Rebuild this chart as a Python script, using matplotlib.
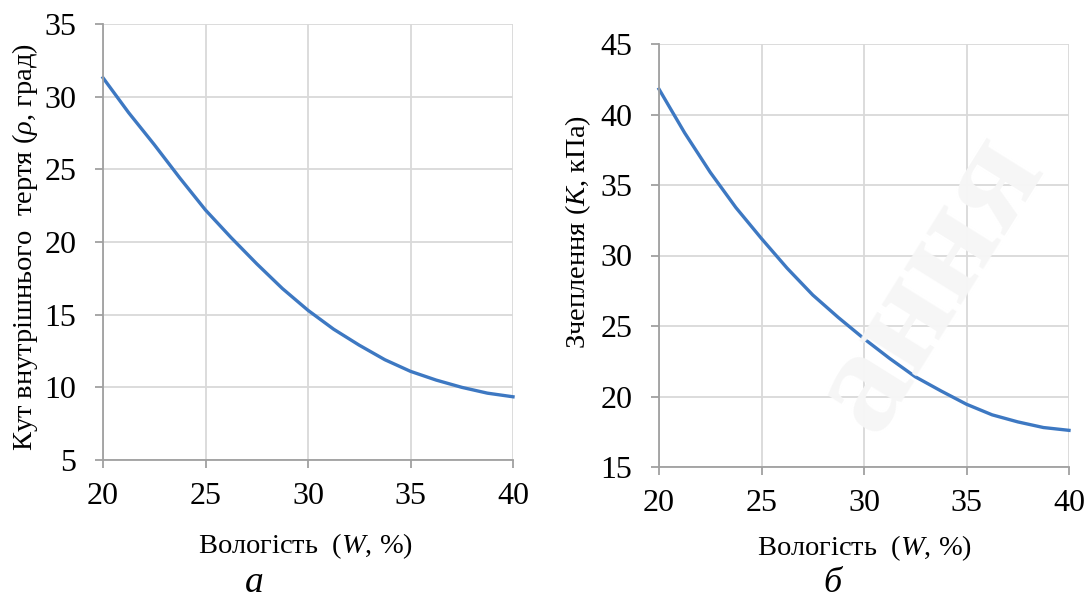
import matplotlib.pyplot as plt

plt.rcParams['font.family'] = ['Liberation Serif', 'DejaVu Serif']
plt.rcParams['mathtext.fontset'] = 'custom'
plt.rcParams['mathtext.rm'] = 'Liberation Serif'
plt.rcParams['mathtext.it'] = 'Liberation Serif:italic'

# дані, зчитані з графіків
vologist = [20, 21.25, 22.5, 23.75, 25, 26.25, 27.5, 28.75, 30,
            31.25, 32.5, 33.75, 35, 36.25, 37.5, 38.75, 40]
kut_tertya = [31.3, 28.9, 26.7, 24.4, 22.2, 20.3, 18.5, 16.8, 15.3,
              14.0, 12.9, 11.9, 11.1, 10.5, 10.0, 9.6, 9.35]
zcheplennya = [41.8, 38.7, 35.9, 33.4, 31.2, 29.1, 27.2, 25.6, 24.1,
               22.7, 21.4, 20.4, 19.45, 18.7, 18.2, 17.8, 17.6]

x_ticks = [20, 25, 30, 35, 40]
y_ticks_a = [5, 10, 15, 20, 25, 30, 35]
y_ticks_b = [15, 20, 25, 30, 35, 40, 45]

line_color = '#3d78c2'
grid_color = '#d9d9d9'
axis_color = '#a0a0a0'
fs_ticks = 23
fs_label = 20.5

fig = plt.figure(figsize=(10.87, 6), dpi=100)

# водяний знак
fig.text(0.855, 0.53, 'ання', fontsize=105, color='#f6f6f6', rotation=58,
         ha='center', va='center', fontweight='bold', zorder=0)


def setup_axes(ax, yticks):
    ax.set_facecolor('none')
    ax.set_xlim(x_ticks[0], x_ticks[-1])
    ax.set_ylim(yticks[0], yticks[-1])
    ax.set_xticks(x_ticks)
    ax.set_yticks(yticks)
    ax.grid(True, color=grid_color, linewidth=1.3)
    ax.set_axisbelow(True)
    for s in ['top', 'right']:
        ax.spines[s].set_visible(False)
    for s in ['left', 'bottom']:
        ax.spines[s].set_color(axis_color)
        ax.spines[s].set_linewidth(1.3)
    ax.tick_params(direction='out', length=6, width=1.3, color=axis_color,
                   labelsize=fs_ticks, pad=10)
    ax.tick_params(axis='y', pad=13)
    for t in ax.get_xticklabels() + ax.get_yticklabels():
        t.set_clip_on(False)


ax1 = fig.add_axes([103 / 1087, 1 - 460 / 600, 410 / 1087, 436 / 600])
setup_axes(ax1, y_ticks_a)
ax1.plot(vologist, kut_tertya, color=line_color, linewidth=2.4, clip_on=False)

ax2 = fig.add_axes([659 / 1087, 1 - 467 / 600, 410 / 1087, 423 / 600])
setup_axes(ax2, y_ticks_b)
ax2.plot(vologist, zcheplennya, color=line_color, linewidth=2.4, clip_on=False)

# підписи осей
fig.text(306 / 1087, 1 - 546 / 600, 'Вологість  ($\\mathit{W}$, %)',
         fontsize=fs_label, ha='center', va='center')
fig.text(865 / 1087, 1 - 548 / 600, 'Вологість  ($\\mathit{W}$, %)',
         fontsize=fs_label, ha='center', va='center')
fig.text(25 / 1087, 1 - 247 / 600, 'Кут внутрішнього  тертя ($\\rho$, град)',
         fontsize=fs_label, rotation=90, ha='center', va='center')
fig.text(578 / 1087, 1 - 232 / 600, 'Зчеплення ($\\mathit{K}$, кПа)',
         fontsize=fs_label, rotation=90, ha='center', va='center')

# позначення рисунків
fig.text(254 / 1087, 1 - 583 / 600, 'а', fontsize=27, style='italic',
         ha='center', va='center')
fig.text(832 / 1087, 1 - 583 / 600, 'б', fontsize=26, style='italic',
         ha='center', va='center')

fig.savefig('out.png', dpi=100)
